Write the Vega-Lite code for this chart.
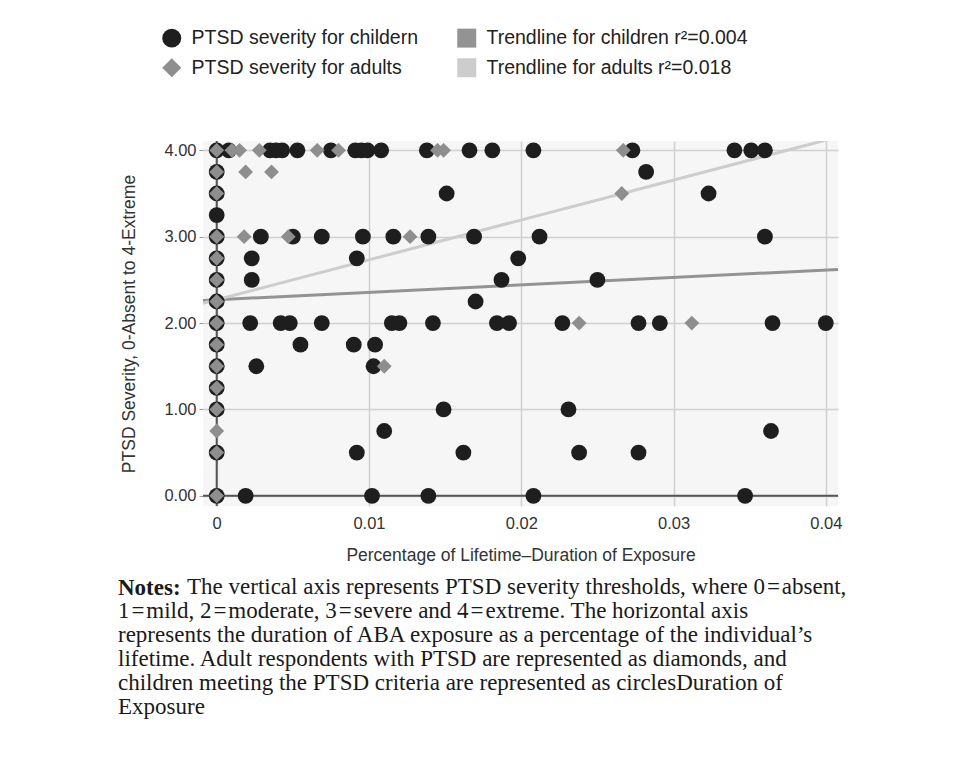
{
  "$schema": "https://vega.github.io/schema/vega-lite/v6.json",
  "width": 635,
  "height": 365,
  "autosize": {"type": "none"},
  "padding": {"left": 203, "top": 141, "right": 139, "bottom": 261},
  "background": "white",
  "config": {
    "view": {"fill": "#f6f6f6", "stroke": null},
    "font": "Liberation Sans",
    "axis": {
      "labelFont": "Liberation Sans",
      "labelFontSize": 16.5,
      "labelColor": "#333333",
      "titleFont": "Liberation Sans",
      "titleFontSize": 17.5,
      "titleFontWeight": "normal",
      "titleColor": "#333333",
      "gridColor": "#d0d0d0",
      "gridWidth": 1.5,
      "domain": false
    }
  },
  "title": {
    "text": "Notes:",
    "subtitle": [
      "\u200b\u2003\u2003\u2003The vertical axis represents PTSD severity thresholds, where 0\u200a=\u200aabsent,",
      "1\u200a=\u200amild, 2\u200a=\u200amoderate, 3\u200a=\u200asevere and 4\u200a=\u200aextreme. The horizontal axis",
      "represents the duration of ABA exposure as a percentage of the individual\u2019s",
      "lifetime. Adult respondents with PTSD are represented as diamonds, and",
      "children meeting the PTSD criteria are represented as circlesDuration of",
      "Exposure"
    ],
    "orient": "bottom",
    "anchor": "start",
    "frame": "group",
    "dx": -85,
    "offset": 13,
    "font": "Liberation Serif",
    "fontSize": 23,
    "fontWeight": "bold",
    "color": "#1a1a1a",
    "lineHeight": 24,
    "subtitleFont": "Liberation Serif",
    "subtitleFontSize": 23,
    "subtitleFontWeight": "normal",
    "subtitleColor": "#1a1a1a",
    "subtitleLineHeight": 24,
    "subtitlePadding": -24
  },
  "datasets": {
    "points": [
      {"group": "PTSD severity for childern", "x": 0, "y": 4},
      {"group": "PTSD severity for childern", "x": 0.0008, "y": 4},
      {"group": "PTSD severity for childern", "x": 0.0035, "y": 4},
      {"group": "PTSD severity for childern", "x": 0.0039, "y": 4},
      {"group": "PTSD severity for childern", "x": 0.0043, "y": 4},
      {"group": "PTSD severity for childern", "x": 0.0053, "y": 4},
      {"group": "PTSD severity for childern", "x": 0.0075, "y": 4},
      {"group": "PTSD severity for childern", "x": 0.0091, "y": 4},
      {"group": "PTSD severity for childern", "x": 0.0095, "y": 4},
      {"group": "PTSD severity for childern", "x": 0.0099, "y": 4},
      {"group": "PTSD severity for childern", "x": 0.0108, "y": 4},
      {"group": "PTSD severity for childern", "x": 0.0138, "y": 4},
      {"group": "PTSD severity for childern", "x": 0.0166, "y": 4},
      {"group": "PTSD severity for childern", "x": 0.0181, "y": 4},
      {"group": "PTSD severity for childern", "x": 0.0208, "y": 4},
      {"group": "PTSD severity for childern", "x": 0.0273, "y": 4},
      {"group": "PTSD severity for childern", "x": 0.034, "y": 4},
      {"group": "PTSD severity for childern", "x": 0.0351, "y": 4},
      {"group": "PTSD severity for childern", "x": 0.036, "y": 4},
      {"group": "PTSD severity for childern", "x": 0, "y": 3.75},
      {"group": "PTSD severity for childern", "x": 0.0282, "y": 3.75},
      {"group": "PTSD severity for childern", "x": 0, "y": 3.5},
      {"group": "PTSD severity for childern", "x": 0.0151, "y": 3.5},
      {"group": "PTSD severity for childern", "x": 0.0323, "y": 3.5},
      {"group": "PTSD severity for childern", "x": 0, "y": 3.25},
      {"group": "PTSD severity for childern", "x": 0, "y": 3},
      {"group": "PTSD severity for childern", "x": 0.0029, "y": 3},
      {"group": "PTSD severity for childern", "x": 0.005, "y": 3},
      {"group": "PTSD severity for childern", "x": 0.0069, "y": 3},
      {"group": "PTSD severity for childern", "x": 0.0096, "y": 3},
      {"group": "PTSD severity for childern", "x": 0.0116, "y": 3},
      {"group": "PTSD severity for childern", "x": 0.0139, "y": 3},
      {"group": "PTSD severity for childern", "x": 0.0169, "y": 3},
      {"group": "PTSD severity for childern", "x": 0.0212, "y": 3},
      {"group": "PTSD severity for childern", "x": 0.036, "y": 3},
      {"group": "PTSD severity for childern", "x": 0, "y": 2.75},
      {"group": "PTSD severity for childern", "x": 0.0023, "y": 2.75},
      {"group": "PTSD severity for childern", "x": 0.0092, "y": 2.75},
      {"group": "PTSD severity for childern", "x": 0.0198, "y": 2.75},
      {"group": "PTSD severity for childern", "x": 0, "y": 2.5},
      {"group": "PTSD severity for childern", "x": 0.0023, "y": 2.5},
      {"group": "PTSD severity for childern", "x": 0.0187, "y": 2.5},
      {"group": "PTSD severity for childern", "x": 0.025, "y": 2.5},
      {"group": "PTSD severity for childern", "x": 0, "y": 2.25},
      {"group": "PTSD severity for childern", "x": 0.017, "y": 2.25},
      {"group": "PTSD severity for childern", "x": 0, "y": 2},
      {"group": "PTSD severity for childern", "x": 0.0022, "y": 2},
      {"group": "PTSD severity for childern", "x": 0.0042, "y": 2},
      {"group": "PTSD severity for childern", "x": 0.0048, "y": 2},
      {"group": "PTSD severity for childern", "x": 0.0069, "y": 2},
      {"group": "PTSD severity for childern", "x": 0.0115, "y": 2},
      {"group": "PTSD severity for childern", "x": 0.012, "y": 2},
      {"group": "PTSD severity for childern", "x": 0.0142, "y": 2},
      {"group": "PTSD severity for childern", "x": 0.0184, "y": 2},
      {"group": "PTSD severity for childern", "x": 0.0192, "y": 2},
      {"group": "PTSD severity for childern", "x": 0.0227, "y": 2},
      {"group": "PTSD severity for childern", "x": 0.0277, "y": 2},
      {"group": "PTSD severity for childern", "x": 0.0291, "y": 2},
      {"group": "PTSD severity for childern", "x": 0.0365, "y": 2},
      {"group": "PTSD severity for childern", "x": 0.04, "y": 2},
      {"group": "PTSD severity for childern", "x": 0, "y": 1.75},
      {"group": "PTSD severity for childern", "x": 0.0055, "y": 1.75},
      {"group": "PTSD severity for childern", "x": 0.009, "y": 1.75},
      {"group": "PTSD severity for childern", "x": 0.0104, "y": 1.75},
      {"group": "PTSD severity for childern", "x": 0, "y": 1.5},
      {"group": "PTSD severity for childern", "x": 0.0026, "y": 1.5},
      {"group": "PTSD severity for childern", "x": 0.0103, "y": 1.5},
      {"group": "PTSD severity for childern", "x": 0, "y": 1.25},
      {"group": "PTSD severity for childern", "x": 0, "y": 1},
      {"group": "PTSD severity for childern", "x": 0.0149, "y": 1},
      {"group": "PTSD severity for childern", "x": 0.0231, "y": 1},
      {"group": "PTSD severity for childern", "x": 0.011, "y": 0.75},
      {"group": "PTSD severity for childern", "x": 0.0364, "y": 0.75},
      {"group": "PTSD severity for childern", "x": 0, "y": 0.5},
      {"group": "PTSD severity for childern", "x": 0.0092, "y": 0.5},
      {"group": "PTSD severity for childern", "x": 0.0162, "y": 0.5},
      {"group": "PTSD severity for childern", "x": 0.0238, "y": 0.5},
      {"group": "PTSD severity for childern", "x": 0.0277, "y": 0.5},
      {"group": "PTSD severity for childern", "x": 0, "y": 0},
      {"group": "PTSD severity for childern", "x": 0.0019, "y": 0},
      {"group": "PTSD severity for childern", "x": 0.0102, "y": 0},
      {"group": "PTSD severity for childern", "x": 0.0139, "y": 0},
      {"group": "PTSD severity for childern", "x": 0.0208, "y": 0},
      {"group": "PTSD severity for childern", "x": 0.0347, "y": 0},
      {"group": "PTSD severity for adults", "x": 0, "y": 4},
      {"group": "PTSD severity for adults", "x": 0.001, "y": 4},
      {"group": "PTSD severity for adults", "x": 0.0015, "y": 4},
      {"group": "PTSD severity for adults", "x": 0.0028, "y": 4},
      {"group": "PTSD severity for adults", "x": 0.0066, "y": 4},
      {"group": "PTSD severity for adults", "x": 0.008, "y": 4},
      {"group": "PTSD severity for adults", "x": 0.0145, "y": 4},
      {"group": "PTSD severity for adults", "x": 0.0149, "y": 4},
      {"group": "PTSD severity for adults", "x": 0.0267, "y": 4},
      {"group": "PTSD severity for adults", "x": 0, "y": 3.75},
      {"group": "PTSD severity for adults", "x": 0.0019, "y": 3.75},
      {"group": "PTSD severity for adults", "x": 0.0036, "y": 3.75},
      {"group": "PTSD severity for adults", "x": 0, "y": 3.5},
      {"group": "PTSD severity for adults", "x": 0.0266, "y": 3.5},
      {"group": "PTSD severity for adults", "x": 0, "y": 3},
      {"group": "PTSD severity for adults", "x": 0.0018, "y": 3},
      {"group": "PTSD severity for adults", "x": 0.0047, "y": 3},
      {"group": "PTSD severity for adults", "x": 0.0127, "y": 3},
      {"group": "PTSD severity for adults", "x": 0, "y": 2.75},
      {"group": "PTSD severity for adults", "x": 0, "y": 2.5},
      {"group": "PTSD severity for adults", "x": 0, "y": 2.25},
      {"group": "PTSD severity for adults", "x": 0, "y": 2},
      {"group": "PTSD severity for adults", "x": 0.0238, "y": 2},
      {"group": "PTSD severity for adults", "x": 0.0312, "y": 2},
      {"group": "PTSD severity for adults", "x": 0, "y": 1.75},
      {"group": "PTSD severity for adults", "x": 0, "y": 1.5},
      {"group": "PTSD severity for adults", "x": 0.011, "y": 1.5},
      {"group": "PTSD severity for adults", "x": 0, "y": 1.25},
      {"group": "PTSD severity for adults", "x": 0, "y": 1},
      {"group": "PTSD severity for adults", "x": 0, "y": 0.75},
      {"group": "PTSD severity for adults", "x": 0, "y": 0.5},
      {"group": "PTSD severity for adults", "x": 0, "y": 0}
    ],
    "trends": [
      {"series": "children", "x": -0.0009, "y": 2.262},
      {"series": "children", "x": 0.0408, "y": 2.621},
      {"series": "adults", "x": -0.0009, "y": 2.228},
      {"series": "adults", "x": 0.041, "y": 4.164}
    ],
    "zeros": [
      {"x": 0, "y": 0}
    ]
  },
  "layer": [
    {
      "data": {"name": "zeros"},
      "mark": {"type": "rule", "color": "#555555", "strokeWidth": 2},
      "encoding": {
        "x": {"field": "x", "type": "quantitative", "scale": {"domain": [-0.0009, 0.0408], "nice": false, "zero": false},
          "axis": {"title": "Percentage of Lifetime\u2013Duration of Exposure", "values": [0, 0.01, 0.02, 0.03, 0.04], "format": "~g", "ticks": false, "labelPadding": 9, "titlePadding": 15}}
      }
    },
    {
      "data": {"name": "zeros"},
      "mark": {"type": "rule", "color": "#555555", "strokeWidth": 2},
      "encoding": {
        "y": {"field": "y", "type": "quantitative", "scale": {"domain": [-0.118, 4.108], "nice": false, "zero": false},
          "axis": {"title": "PTSD Severity, 0-Absent to 4-Extreme", "values": [0, 1, 2, 3, 4], "format": ".2f", "tickSize": 4, "tickColor": "#999999", "labelPadding": 3, "titlePadding": 25}}
      }
    },
    {
      "data": {"name": "trends"},
      "transform": [{"filter": "datum.series === 'children'"}],
      "mark": {"type": "line", "color": "#939393", "strokeWidth": 3, "clip": true},
      "encoding": {
        "x": {"field": "x", "type": "quantitative"},
        "y": {"field": "y", "type": "quantitative"}
      }
    },
    {
      "data": {"name": "trends"},
      "transform": [{"filter": "datum.series === 'adults'"}],
      "mark": {"type": "line", "color": "#cdcdcd", "strokeWidth": 3, "clip": true},
      "encoding": {
        "x": {"field": "x", "type": "quantitative"},
        "y": {"field": "y", "type": "quantitative"}
      }
    },
    {
      "data": {"name": "points"},
      "transform": [{"filter": "datum.group === 'PTSD severity for childern'"}],
      "mark": {"type": "point", "filled": true, "opacity": 1, "size": 250},
      "encoding": {
        "x": {"field": "x", "type": "quantitative"},
        "y": {"field": "y", "type": "quantitative"},
        "color": {"field": "group", "type": "nominal",
          "scale": {"domain": ["PTSD severity for childern", "PTSD severity for adults", "Trendline for children r\u00b2=0.004", "Trendline for adults r\u00b2=0.018"],
                    "range": ["#1e1e1e", "#8e8e8e", "#939393", "#cdcdcd"]},
          "legend": {"orient": "none", "legendX": -41, "legendY": -113, "columns": 2, "title": null,
                     "labelFont": "Liberation Sans", "labelFontSize": 19.5, "labelColor": "#222222",
                     "symbolSize": 360, "labelOffset": 10, "columnPadding": 39, "rowPadding": 9,
                     "symbolStrokeWidth": 0, "labelLimit": 400, "symbolOpacity": 1}},
        "shape": {"field": "group", "type": "nominal",
          "scale": {"domain": ["PTSD severity for childern", "PTSD severity for adults", "Trendline for children r\u00b2=0.004", "Trendline for adults r\u00b2=0.018"],
                    "range": ["circle", "diamond", "square", "square"]}}
      }
    },
    {
      "data": {"name": "points"},
      "transform": [{"filter": "datum.group === 'PTSD severity for adults'"}],
      "mark": {"type": "point", "filled": true, "opacity": 1, "size": 220},
      "encoding": {
        "x": {"field": "x", "type": "quantitative"},
        "y": {"field": "y", "type": "quantitative"},
        "color": {"field": "group", "type": "nominal"},
        "shape": {"field": "group", "type": "nominal"}
      }
    }
  ]
}
